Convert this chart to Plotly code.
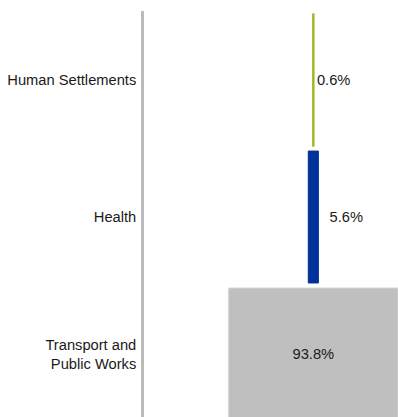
import plotly.graph_objects as go

# Share of spending by function (percent)
categories = ["Human Settlements", "Health", "Transport and<br>Public Works"]
shares = [0.6, 5.6, 93.8]
labels = ["0.6%", "\u00a0\u00a05.6%", "93.8%"]
fill_colors = ["#9BBB22", "#003399", "#BFBFBF"]
edge_colors = ["#9BBB22", "#003399", "#D4D4D4"]
edge_widths = [1.4, 1, 1]

FONT = "Arial, Liberation Sans, sans-serif"

fig = go.Figure(
    go.Funnel(
        y=categories,
        x=shares,
        text=labels,
        textinfo="text",
        textposition=["outside", "outside", "inside"],
        insidetextanchor="middle",
        constraintext="none",
        textfont=dict(family=FONT, size=14.7, color="#1A1A1A"),
        marker=dict(color=fill_colors, line=dict(color=edge_colors, width=edge_widths)),
        connector=dict(visible=False),
        hoverinfo="skip",
    )
)

fig.update_layout(
    width=398,
    height=417,
    margin=dict(l=144, r=0, t=11, b=0),
    paper_bgcolor="white",
    plot_bgcolor="white",
    funnelgap=0.037,
    showlegend=False,
    font=dict(family=FONT, size=14.7, color="#1A1A1A"),
    xaxis=dict(visible=False, range=[-93.8, 46.9], fixedrange=True),
    yaxis=dict(
        type="category",
        categoryorder="array",
        categoryarray=categories,
        range=[2.46, -0.504],
        showline=True,
        linecolor="#BBBBBB",
        linewidth=2.5,
        ticks="",
        ticklabelstandoff=2,
        showgrid=False,
        tickfont=dict(family=FONT, size=14.7, color="#1A1A1A"),
        fixedrange=True,
    ),
)

fig.write_html("out.html", config={"displayModeBar": False})
